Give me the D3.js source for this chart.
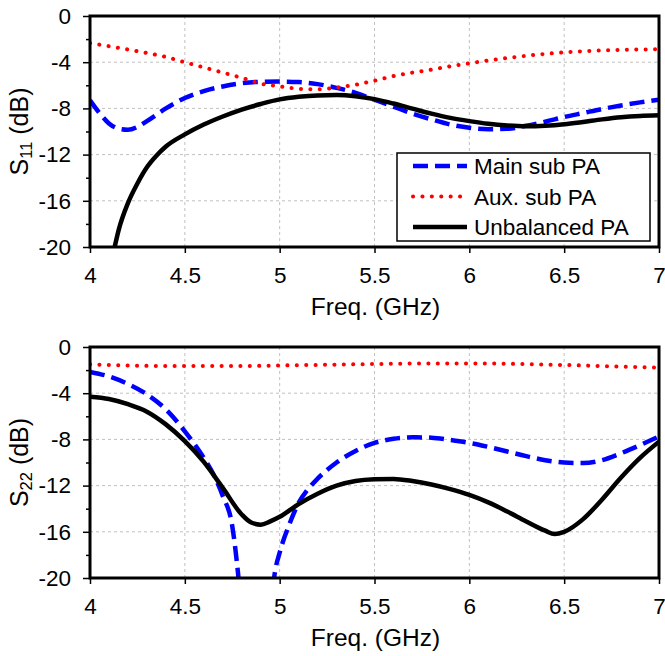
<!DOCTYPE html>
<html lang="en">
<head>
    <meta charset="UTF-8">
    <title>S11 / S22</title>
    <script src="https://d3js.org/d3.v7.min.js"></script>
    <style>
        body { margin: 0; background: #fff; }
        text { font-family: Arial, "Liberation Sans", sans-serif; fill: #000; }
        .grid { stroke: #c0c0c0; stroke-width: 1; stroke-dasharray: 3,3; }
    </style>
</head>
<body>
<svg id="main" width="665" height="656"></svg>
<script>
    // ---- data ----
    const freqTicks = [4, 4.5, 5, 5.5, 6, 6.5, 7];
    const dbTicks = [0, -4, -8, -12, -16, -20];
    const dbMinorTicks = [-2, -6, -10, -14, -18];
    const seriesNames = ['Main sub PA', 'Aux. sub PA', 'Unbalanced PA'];

    // S11
    const s11MainFreq = [4.0,4.05,4.1,4.15,4.2,4.25,4.3,4.4,4.5,4.6,4.7,4.8,4.9,5.0,5.1,5.2,5.3,5.4,5.5,5.6,5.7,5.8,5.9,6.0,6.1,6.2,6.3,6.4,6.5,6.6,6.7,6.8,6.9,7.0];
    const s11MainDb   = [-7.3,-8.4,-9.3,-9.75,-9.85,-9.6,-9.1,-8.0,-7.1,-6.5,-6.1,-5.82,-5.7,-5.68,-5.72,-5.9,-6.22,-6.65,-7.25,-7.85,-8.45,-8.95,-9.4,-9.68,-9.8,-9.77,-9.5,-9.15,-8.75,-8.4,-8.05,-7.75,-7.48,-7.25];
    const s11AuxFreq = [4.0,4.2,4.4,4.5,4.6,4.7,4.8,4.9,5.0,5.1,5.2,5.3,5.4,5.5,5.6,5.7,5.8,5.9,6.0,6.1,6.2,6.3,6.4,6.5,6.6,6.7,6.8,6.9,7.0];
    const s11AuxDb   = [-2.35,-2.9,-3.55,-4.0,-4.45,-4.9,-5.35,-5.85,-6.1,-6.3,-6.35,-6.2,-5.95,-5.6,-5.2,-4.9,-4.65,-4.35,-4.1,-3.85,-3.64,-3.45,-3.28,-3.15,-3.05,-2.98,-2.93,-2.9,-2.88];
    const s11UnbFreq = [4.0,4.05,4.1,4.13,4.15,4.2,4.25,4.3,4.35,4.4,4.5,4.6,4.7,4.8,4.9,5.0,5.1,5.2,5.3,5.4,5.5,5.6,5.7,5.8,5.9,6.0,6.1,6.2,6.3,6.4,6.5,6.6,6.7,6.8,6.9,7.0];
    const s11UnbDb   = [-34,-27,-22.3,-20,-18.6,-16.2,-14.5,-13.1,-12.1,-11.3,-10.25,-9.4,-8.7,-8.1,-7.62,-7.22,-7.0,-6.88,-6.85,-6.95,-7.2,-7.58,-8.02,-8.45,-8.82,-9.1,-9.33,-9.48,-9.55,-9.5,-9.37,-9.17,-8.95,-8.77,-8.66,-8.6];

    // S22
    const s22MainFreq = [4.0,4.1,4.2,4.3,4.4,4.5,4.6,4.65,4.7,4.75,4.78,4.8,4.85,4.9,4.95,4.975,5.0,5.05,5.1,5.15,5.2,5.3,5.4,5.5,5.6,5.7,5.8,5.9,6.0,6.1,6.2,6.3,6.4,6.5,6.6,6.7,6.8,6.9,7.0];
    const s22MainDb   = [-2.15,-2.55,-3.2,-4.1,-5.4,-7.3,-9.6,-11.0,-12.9,-15.5,-19.5,-23,-28,-28,-23,-19.5,-17.8,-15.4,-13.5,-12.3,-11.4,-10.0,-9.0,-8.3,-7.95,-7.82,-7.85,-8.05,-8.3,-8.65,-9.05,-9.45,-9.8,-10.0,-10.05,-9.8,-9.2,-8.5,-7.75];
    const s22AuxFreq = [4.0,4.2,4.4,4.6,4.8,5.0,5.2,5.4,5.6,5.8,6.0,6.2,6.4,6.6,6.8,7.0];
    const s22AuxDb   = [-1.5,-1.6,-1.65,-1.65,-1.65,-1.6,-1.55,-1.5,-1.45,-1.42,-1.42,-1.45,-1.52,-1.6,-1.7,-1.78];
    const s22UnbFreq = [4.0,4.1,4.2,4.3,4.4,4.5,4.6,4.7,4.8,4.85,4.9,4.95,5.0,5.1,5.2,5.3,5.4,5.5,5.6,5.7,5.8,5.9,6.0,6.1,6.2,6.3,6.4,6.45,6.5,6.6,6.7,6.8,6.9,7.0];
    const s22UnbDb   = [-4.3,-4.5,-4.95,-5.6,-6.7,-8.15,-9.95,-12.2,-14.5,-15.2,-15.38,-15.1,-14.7,-13.6,-12.7,-12.0,-11.6,-11.45,-11.42,-11.6,-11.9,-12.3,-12.8,-13.45,-14.25,-15.1,-15.9,-16.2,-16.0,-14.9,-13.2,-11.3,-9.6,-8.2];

    const styles = [
        {color: '#0000ff', width: 4.5, dash: '15,7', cap: 'butt'},
        {color: '#ff0000', width: 4, dash: '0.1,9.3', cap: 'round'},
        {color: '#000000', width: 4.5, dash: null, cap: 'butt'}
    ];

    const svg = d3.select('svg#main');
    const left = 90, right = 659;
    const x = d3.scaleLinear().domain([4, 7]).range([left, right]);

    function zip(fs, ds) { return fs.map((f, i) => ({f: f, db: ds[i]})); }

    function drawPanel(id, top, bottom, sub, series, withLegend) {
        let y = d3.scaleLinear().domain([-20, 0]).range([bottom, top]);
        let g = svg.append('g');

        g.append('clipPath').attr('id', 'clip' + id)
            .append('rect').attr('x', left).attr('y', top)
            .attr('width', right - left).attr('height', bottom - top);

        // grid
        g.selectAll('.gx').data(freqTicks.slice(1, -1)).join('line')
            .attr('class', 'grid')
            .attr('x1', d => x(d)).attr('x2', d => x(d))
            .attr('y1', top).attr('y2', bottom);
        g.selectAll('.gy').data(dbTicks.slice(1, -1)).join('line')
            .attr('class', 'grid')
            .attr('x1', left).attr('x2', right)
            .attr('y1', d => y(d)).attr('y2', d => y(d));

        // curves
        let line = d3.line().x(d => x(d.f)).y(d => y(d.db)).curve(d3.curveMonotoneX);
        let pg = g.append('g').attr('clip-path', 'url(#clip' + id + ')');
        series.forEach(function (s, i) {
            let st = styles[i];
            pg.append('path')
                .datum(s)
                .attr('d', line)
                .attr('fill', 'none')
                .attr('stroke', st.color)
                .attr('stroke-width', st.width)
                .attr('stroke-linecap', st.cap)
                .attr('stroke-dasharray', st.dash);
        });

        // axes
        let ya = g.append('g').attr('transform', `translate(${left},0)`)
            .call(d3.axisLeft(y).tickValues(dbTicks).tickSize(7).tickPadding(12).tickFormat(d => String(d)));
        let yminor = g.append('g').attr('transform', `translate(${left},0)`)
            .call(d3.axisLeft(y).tickValues(dbMinorTicks).tickSize(4).tickFormat(''));
        let xa = g.append('g').attr('transform', `translate(0,${bottom})`)
            .call(d3.axisBottom(x).tickValues(freqTicks).tickSize(6).tickPadding(14).tickFormat(d => String(d)));
        [ya, yminor, xa].forEach(function (a) {
            a.select('.domain').remove();
            a.selectAll('line').attr('stroke', '#000').attr('stroke-width', 1.5);
            a.selectAll('text').style('font-size', '22.5px')
                .style('font-family', 'Arial, "Liberation Sans", sans-serif');
        });

        // frame
        g.append('rect').attr('x', left).attr('y', top)
            .attr('width', right - left).attr('height', bottom - top)
            .attr('fill', 'none').attr('stroke', '#000').attr('stroke-width', 3);

        // titles
        g.append('text')
            .attr('x', (left + right) / 2 + 1).attr('y', bottom + 68)
            .attr('text-anchor', 'middle').style('font-size', '24.5px')
            .text('Freq. (GHz)');
        let yt = g.append('text')
            .attr('transform', `translate(28,${(top + bottom) / 2}) rotate(-90)`)
            .attr('text-anchor', 'middle').style('font-size', '25px');
        yt.append('tspan').text('S');
        yt.append('tspan').attr('dy', 4).style('font-size', '16.5px').text(sub);
        yt.append('tspan').attr('dy', -4).text(' (dB)');

        if (withLegend) {
            let lg = g.append('g');
            lg.append('rect').attr('x', 397).attr('y', 153).attr('width', 253).attr('height', 88)
                .attr('fill', '#fff').attr('stroke', '#000').attr('stroke-width', 1.5);
            seriesNames.forEach(function (name, i) {
                let st = styles[i];
                let cy = 166 + i * 30.5;
                lg.append('line')
                    .attr('x1', 413).attr('x2', 467).attr('y1', cy).attr('y2', cy)
                    .attr('stroke', st.color).attr('stroke-width', st.width)
                    .attr('stroke-linecap', st.cap).attr('stroke-dasharray', st.dash);
                lg.append('text').attr('x', 474).attr('y', cy).attr('dy', '0.36em')
                    .style('font-size', '22.5px').text(name);
            });
        }
    }

    drawPanel('a', 16, 247, '11',
        [zip(s11MainFreq, s11MainDb), zip(s11AuxFreq, s11AuxDb), zip(s11UnbFreq, s11UnbDb)], true);
    drawPanel('b', 347, 578, '22',
        [zip(s22MainFreq, s22MainDb), zip(s22AuxFreq, s22AuxDb), zip(s22UnbFreq, s22UnbDb)], false);
</script>
</body>
</html>
